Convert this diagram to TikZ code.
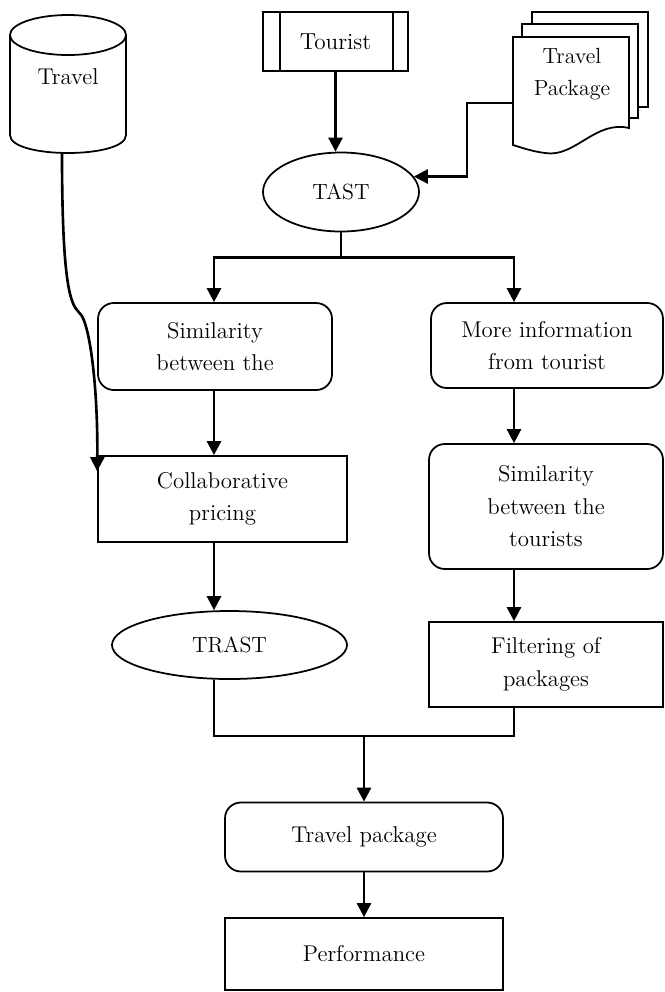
\documentclass[tikz,border=0pt]{standalone}
\usetikzlibrary{shapes.geometric,arrows.meta,calc}

\begin{document}
\begin{tikzpicture}
[x=0.02cm,y=-0.02cm,
  lineDecorate/.style={-,line width=1pt},%
  arrowDecorate/.style={-{Triangle[length=8pt,width=8pt]},line width=1.5pt},%
  boxDecorate/.style={shape=rectangle,draw,line width=1pt,inner sep=0pt,
    align=center,font=\fontsize{13}{18.5}\selectfont},%
  roundDecorate/.style={boxDecorate,rounded corners=9pt},%
  ovalDecorate/.style={shape=ellipse,draw,line width=1pt,inner sep=0pt,
    font=\fontsize{12.5}{15}\selectfont}]
\useasboundingbox (0,0) rectangle (665,992);
%% lanes of the two columns
\coordinate (laneL) at (214,0);
\coordinate (laneR) at (514,0);
%% data store
\draw[lineDecorate,fill=white] (10,35) -- (10,135)
  .. controls (10,159) and (126,159) .. (126,135) -- (126,35);
\draw[lineDecorate] (68,35) ellipse [x radius=58, y radius=20];
\node (travelDb) at (68,77) [font=\fontsize{13}{15}\selectfont] {Travel};
\coordinate (travelOut) at (62,153);
%% tourist
\node (tourist) at (335.5,41.5) [boxDecorate,minimum width=2.9cm,
  minimum height=1.18cm,font=\fontsize{13.2}{16}\selectfont] {Tourist};
\draw[lineDecorate] ($(tourist.north west)+(18,0)$) -- ($(tourist.south west)+(18,0)$);
\draw[lineDecorate] ($(tourist.north east)+(-16,0)$) -- ($(tourist.south east)+(-16,0)$);
%% document stack
\draw[lineDecorate,fill=white] (532,12) rectangle (648,107);
\draw[lineDecorate,fill=white] (522,24) rectangle (638,118);
\draw[lineDecorate,fill=white] (513,37) -- (629,37) -- (629,128)
  .. controls (595,120) and (575,158) .. (545,153)
  .. controls (530,151) and (520,147) .. (513,145) -- cycle;
\node (travelDoc) at (572,74) [align=center,
  font=\fontsize{12.5}{18}\selectfont] {Travel\\Package};
\coordinate (docOut) at (513,103);
%% ovals
\foreach \nodename/\x/\y/\w/\h/\txt in {
  tast/341/192/156/79/TAST, trast/229.5/645/235/68/TRAST}
{
  \node (\nodename) at (\x,\y) [ovalDecorate,minimum width={\w*0.02cm},
    minimum height={\h*0.02cm}] {\txt};
}
%% rounded boxes
\foreach \nodename/\x/\y/\w/\h/\txt in {
  simA/215/346.5/234/87/{Similarity\\between the},
  moreInfo/547/345.5/232/85/{More information\\from tourist},
  simB/546/506.5/234/125/{Similarity\\between the\\tourists},
  travelPkg/364/837/278/69/{Travel package}}
{
  \node (\nodename) at (\x,\y) [roundDecorate,minimum width={\w*0.02cm},
    minimum height={\h*0.02cm}] {\txt};
}
%% plain boxes
\foreach \nodename/\x/\y/\w/\h/\txt in {
  collab/222.5/499/249/86/{Collaborative\\pricing},
  filter/546/664.5/234/85/{Filtering of\\packages},
  perf/364/954/278/72/{Performance}}
{
  \node (\nodename) at (\x,\y) [boxDecorate,minimum width={\w*0.02cm},
    minimum height={\h*0.02cm}] {\txt};
}
%% connectors
\draw[arrowDecorate] (tourist.south) -- (tourist.south |- tast.north);
\draw[arrowDecorate] (docOut) -- ++(-46,0) |- (tast.12);
\draw[lineDecorate] (tast.south) -- ++(0,25) coordinate (split);
\draw[arrowDecorate] (split) -| (laneL |- simA.north);
\draw[arrowDecorate] (split) -| (laneR |- moreInfo.north);
\draw[arrowDecorate] (laneL |- simA.south) -- (laneL |- collab.north);
\draw[arrowDecorate] (laneL |- collab.south) -- (laneL |- trast.north);
\draw[arrowDecorate] (laneR |- moreInfo.south) -- (laneR |- simB.north);
\draw[arrowDecorate] (laneR |- simB.south) -- (laneR |- filter.north);
\draw[arrowDecorate] (travelOut) .. controls (62,265) and (68,300) .. (77,310)
  -- (82,316) .. controls (92,335) and (98,400) .. ($(collab.north west)+(0,16)$);
\coordinate (join) at (364,736);
\draw[lineDecorate] (laneL |- trast.south) |- (laneR |- join) -- (laneR |- filter.south);
\draw[arrowDecorate] (join) -- (join |- travelPkg.north);
\draw[arrowDecorate] (travelPkg.south) -- (perf.north);
\end{tikzpicture}
\end{document}
